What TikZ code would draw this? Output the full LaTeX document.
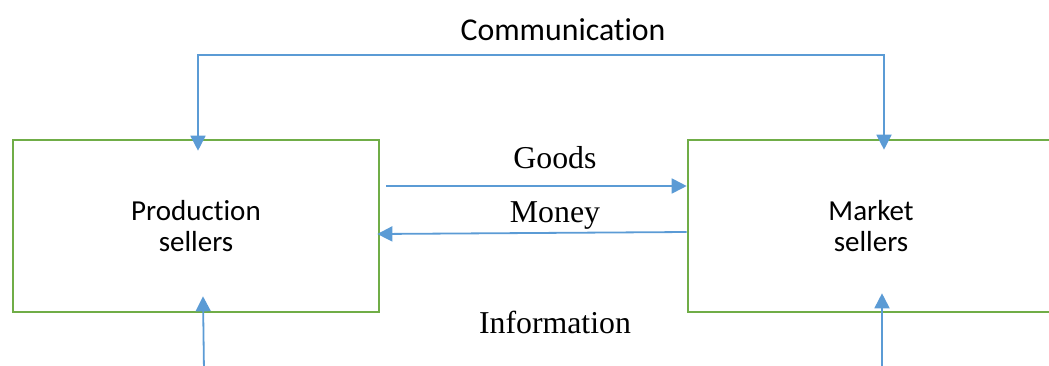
\documentclass[tikz,border=0pt]{standalone}
\usepackage{fontspec}
\setmainfont{Liberation Serif}
\newfontfamily\calibri[Ligatures=NoCommon]{Carlito}
\usepackage{tikz}
\usetikzlibrary{arrows.meta, shapes}

\definecolor{boxgreen}{HTML}{70AD47}
\definecolor{flowblue}{HTML}{5B9BD5}

\begin{document}
\begin{tikzpicture}[x=0.5pt, y=-0.5pt]
\useasboundingbox (0,0) rectangle (1049,365);
\clip (0,0) rectangle (1049,365);

\begin{scope}[every node/.style={rectangle, draw=boxgreen, line width=1.3pt,
              minimum width=183pt, minimum height=86pt, align=center,
              font=\calibri\fontsize{14.5}{15.5}\selectfont}]
    \node (prod) at (196,226) {Production\\sellers};
    \node (mkt) at (871,226) {Market\\sellers};
\end{scope}

\begin{scope}[every node/.style={anchor=base, inner sep=0pt, font=\fontsize{15.9}{18}\selectfont}]
    \node[font=\calibri\fontsize{15.9}{18}\selectfont] (comm) at (563,40) {Communication};
    \node (goods) at (555,168) {Goods};
    \node (money) at (555,222) {Money};
    \node (info) at (555,333) {Information};
\end{scope}

\coordinate (commtop) at (540,55);
\coordinate (infoL) at (204,372);
\coordinate (infoR) at (882,372);

\begin{scope}[>={Triangle[length=7.5pt, width=7.5pt]},
              every path/.style={draw=flowblue, line width=0.9pt}]
    \path [<->] ([shift={(1pt,-6pt)}]prod.north) |- (commtop) -| ([shift={(6.5pt,-5.5pt)}]mkt.north);
    \path [->] ([shift={(3pt,20pt)}]prod.east) -- ([yshift=20pt]mkt.west);
    \path [->] ([yshift=-3pt]mkt.west) -- ([shift={(-1.5pt,-4pt)}]prod.east);
    %\path [->] (info) -- (mkt);
    \path [->] (infoL) -- ([shift={(3.5pt,8.5pt)}]prod.south);
    \path [->] (infoR) -- ([shift={(5.5pt,10pt)}]mkt.south);
\end{scope}
\end{tikzpicture}
\end{document}
